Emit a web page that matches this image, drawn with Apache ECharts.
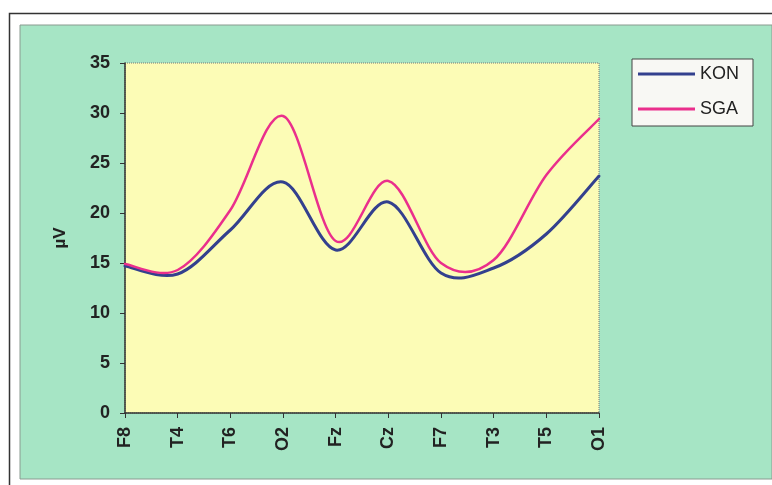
<!DOCTYPE html>
<html>
<head>
<meta charset="utf-8">
<script src="https://cdn.jsdelivr.net/npm/echarts@6/dist/echarts.min.js"></script>
<style>html,body{margin:0;padding:0;background:#fff;}#c{width:772px;height:485px;}</style>
</head>
<body>
<div id="c"></div>
<script>
var categories = ['F8', 'T4', 'T6', 'O2', 'Fz', 'Cz', 'F7', 'T3', 'T5', 'O1'];
var konValues = [14.7, 13.9, 18.3, 23.1, 16.3, 21.1, 14.0, 14.5, 17.9, 23.7];
var sgaValues = [14.9, 14.3, 20.3, 29.7, 17.2, 23.2, 15.0, 15.3, 23.8, 29.4];
var yTicks = [0, 5, 10, 15, 20, 25, 30, 35];

var KON_COLOR = '#33408e';
var SGA_COLOR = '#ea2f8c';

// Excel-style smoothed line (Catmull-Rom Bezier) drawn through the axis scales.
function smoothRenderer(values, color, width) {
  return function (params, api) {
    if (params.dataIndex !== 0) return null;
    var pts = values.map(function (v, i) { return api.coord([i, v]); });
    var n = pts.length;
    var d = 'M' + pts[0][0] + ' ' + pts[0][1];
    for (var i = 0; i < n - 1; i++) {
      var p0 = pts[Math.max(i - 1, 0)], p1 = pts[i], p2 = pts[i + 1], p3 = pts[Math.min(i + 2, n - 1)];
      var c1x = p1[0] + (p2[0] - p0[0]) / 6, c1y = p1[1] + (p2[1] - p0[1]) / 6;
      var c2x = p2[0] - (p3[0] - p1[0]) / 6, c2y = p2[1] - (p3[1] - p1[1]) / 6;
      d += ' C' + c1x + ' ' + c1y + ' ' + c2x + ' ' + c2y + ' ' + p2[0] + ' ' + p2[1];
    }
    return {
      type: 'path',
      shape: {pathData: d},
      style: {fill: 'none', stroke: color, lineWidth: width, lineJoin: 'round', lineCap: 'round'}
    };
  };
}

function toData(values) { return values.map(function (v, i) { return [i, v]; }); }

var chart = echarts.init(document.getElementById('c'), null, {renderer: 'canvas'});
chart.setOption({
  backgroundColor: '#ffffff',
  animation: false,
  graphic: [
    {type: 'rect', z: -10, shape: {x: 9.5, y: 13.5, width: 800, height: 500}, style: {fill: '#ffffff', stroke: '#333', lineWidth: 1.5}},
    {type: 'rect', z: -9, shape: {x: 20, y: 25, width: 752, height: 454}, style: {fill: '#a6e5c5', stroke: '#8a9a90', lineWidth: 1}}
  ],
  grid: {left: 125, right: 173, top: 63, bottom: 72, show: true, backgroundColor: '#fcfcb6', borderColor: '#777', borderWidth: 1, borderType: 'dotted'},
  legend: {
    orient: 'vertical', left: 632, top: 59,
    backgroundColor: '#f8f8f4', borderColor: '#444', borderWidth: 1,
    padding: [6, 14, 8, 6], itemGap: 17, itemWidth: 57, itemHeight: 3,
    icon: 'rect',
    textStyle: {fontFamily: 'Liberation Sans, Arial', fontSize: 18, color: '#222'},
    data: ['KON', 'SGA']
  },
  xAxis: {
    type: 'category', data: categories, boundaryGap: false,
    axisLine: {lineStyle: {color: '#333', width: 1.5}},
    axisTick: {show: true, length: 5, alignWithLabel: true, lineStyle: {color: '#333'}},
    axisLabel: {rotate: 90, margin: 14, fontFamily: 'Liberation Sans, Arial', fontWeight: 'bold', fontSize: 18, color: '#222', interval: 0},
    splitLine: {show: false}
  },
  yAxis: {
    type: 'value', min: 0, max: 35, interval: 5,
    name: 'µV', nameLocation: 'middle', nameGap: 56, nameRotate: 90,
    nameTextStyle: {fontFamily: 'Liberation Sans, Arial', fontWeight: 'bold', fontSize: 17, color: '#222'},
    axisLine: {show: true, lineStyle: {color: '#333', width: 1.5}},
    axisTick: {show: true, length: 5, lineStyle: {color: '#333'}},
    axisLabel: {margin: 15, fontFamily: 'Liberation Sans, Arial', fontWeight: 'bold', fontSize: 18, color: '#222',
      formatter: function (v) { return yTicks.indexOf(v) >= 0 ? String(v) : ''; }},
    splitLine: {show: false}
  },
  series: [
    {name: 'KON', type: 'custom', data: toData(konValues), encode: {x: 0, y: 1},
     itemStyle: {color: KON_COLOR}, renderItem: smoothRenderer(konValues, KON_COLOR, 3)},
    {name: 'SGA', type: 'custom', data: toData(sgaValues), encode: {x: 0, y: 1},
     itemStyle: {color: SGA_COLOR}, renderItem: smoothRenderer(sgaValues, SGA_COLOR, 2.5)}
  ]
});
</script>
</body>
</html>
